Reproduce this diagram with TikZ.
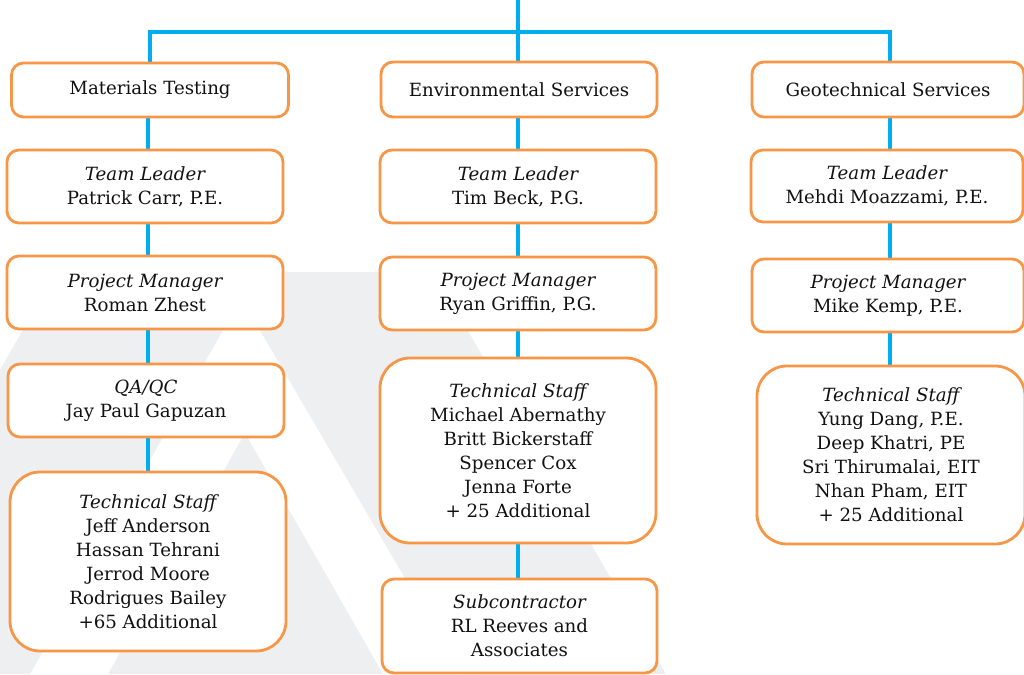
\documentclass[tikz,border=0pt]{standalone}
\usepackage{fontspec}
\setmainfont{DejaVu Serif}
\definecolor{boxorange}{HTML}{F79646}
\definecolor{linkblue}{HTML}{00AEEF}
\definecolor{logogray}{HTML}{EEEFF1}
\definecolor{txt}{HTML}{111111}
\pgfdeclarelayer{back}
\pgfdeclarelayer{links}
\pgfsetlayers{back,links,main}
\tikzset{
  box/.style={draw=boxorange, line width=2.8pt, fill=white, rounded corners=12pt,
    align=center, inner sep=0pt, text=txt, font=\fontsize{18.2}{24}\selectfont},
  bigbox/.style={box, rounded corners=30pt},
  conn/.style={draw=linkblue, line width=3.6pt},
  logo/.style={fill=logogray, draw=none}
}
\begin{document}
\begin{tikzpicture}[x=1pt,y=-1pt]
\useasboundingbox (0,0) rectangle (1024,674);
% column axes
\coordinate (c1) at (148,0);
\coordinate (c2) at (518,0);
\coordinate (c3) at (890,0);
\coordinate (top) at (518,0);
\coordinate (bar) at (518,32);

% headers
\node[box, minimum width=277pt, minimum height=54pt] (h1) at (150,90) {Materials Testing};
\node[box, minimum width=276pt, minimum height=55pt] (h2) at (519,89.5) {Environmental Services};
\node[box, minimum width=272pt, minimum height=55pt] (h3) at (888,89.5) {Geotechnical Services};

% column 1
\node[box, minimum width=276pt, minimum height=73pt] (tl1) at (145,186.5) {{\itshape Team Leader}\\Patrick Carr, P.E.};
\node[box, minimum width=276pt, minimum height=73pt] (pm1) at (145,292.5) {{\itshape Project Manager}\\Roman Zhest};
\node[box, minimum width=276pt, minimum height=73pt] (qa1) at (146,400.5) {{\itshape QA/QC}\\Jay Paul Gapuzan};
\node[bigbox, minimum width=276pt, minimum height=179pt] (ts1) at (148,561.5) {{\itshape Technical Staff}\\Jeff Anderson\\Hassan Tehrani\\Jerrod Moore\\Rodrigues Bailey\\+65 Additional};

% column 2
\node[box, minimum width=276pt, minimum height=73pt] (tl2) at (518,186.5) {{\itshape Team Leader}\\Tim Beck, P.G.};
\node[box, minimum width=276pt, minimum height=73pt] (pm2) at (518,293.5) {{\itshape Project Manager}\\Ryan Griffin, P.G.};
\node[bigbox, minimum width=276pt, minimum height=185pt] (ts2) at (518,450.5) {{\itshape Technical Staff}\\Michael Abernathy\\Britt Bickerstaff\\Spencer Cox\\Jenna Forte\\+ 25 Additional};
\node[box, minimum width=275pt, minimum height=94pt] (sub2) at (519.5,626) {{\itshape Subcontractor}\\RL Reeves and\\Associates};

% column 3
\node[box, minimum width=272pt, minimum height=72pt] (tl3) at (887,186) {{\itshape Team Leader}\\Mehdi Moazzami, P.E.};
\node[box, minimum width=272pt, minimum height=73pt] (pm3) at (888,295.5) {{\itshape Project Manager}\\Mike Kemp, P.E.};
\node[bigbox, minimum width=268pt, minimum height=178pt] (ts3) at (891,455) {{\itshape Technical Staff}\\Yung Dang, P.E.\\Deep Khatri, PE\\Sri Thirumalai, EIT\\Nhan Pham, EIT\\+ 25 Additional};

% background logo
\begin{pgfonlayer}{back}
  \begin{scope}
    \clip (0,0) rectangle (1024,674);
    \fill[logo] (56,272) -- (434,272) -- (666,674) -- (461,674) -- (241,298) -- (30,674) -- (-174,674) -- cycle;
    \fill[logo] (245,433) -- (383,674) -- (108,674) -- cycle;
  \end{scope}
\end{pgfonlayer}

% connectors
\begin{pgfonlayer}{links}
  \draw[conn] (top) -- (h2.north -| c2);
  \draw[conn] (h1.north -| 150,0) |- (bar) -| (h3.north -| c3);
  \draw[conn] (h1.south -| c1) -- (tl1.north -| c1);
  \draw[conn] (tl1.south -| c1) -- (pm1.north -| c1);
  \draw[conn] (pm1.south -| c1) -- (qa1.north -| c1);
  \draw[conn] (qa1.south -| c1) -- (ts1.north -| c1);
  \draw[conn] (h2.south -| c2) -- (tl2.north -| c2);
  \draw[conn] (tl2.south -| c2) -- (pm2.north -| c2);
  \draw[conn] (pm2.south -| c2) -- (ts2.north -| c2);
  \draw[conn] (ts2.south -| c2) -- (sub2.north -| c2);
  \draw[conn] (h3.south -| c3) -- (tl3.north -| c3);
  \draw[conn] (tl3.south -| c3) -- (pm3.north -| c3);
  \draw[conn] (pm3.south -| c3) -- (ts3.north -| c3);
\end{pgfonlayer}
\end{tikzpicture}
\end{document}
